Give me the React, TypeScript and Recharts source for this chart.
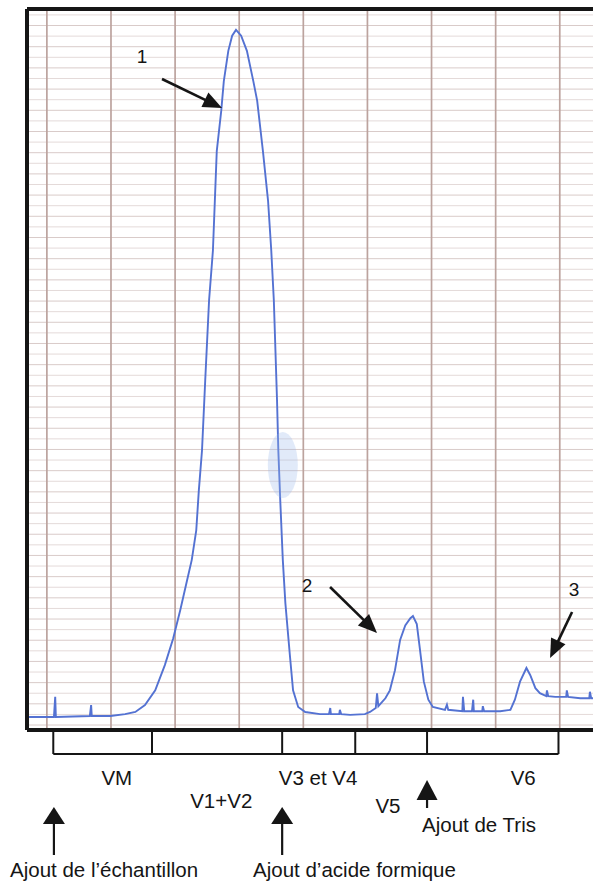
import {
  Line,
  LineChart,
  ReferenceDot,
  ReferenceLine,
  XAxis,
  YAxis,
} from 'recharts';

// Trace: x in chart divisions, y in % of full scale.
const elution = [
  0.03, 0.42, 0.44, 0.45, 0.98, 1.0, 1.01, 1.3, 1.53, 1.69, 1.84, 2.0, 2.15, 2.28, 2.39, 2.48,
  2.57, 2.64, 2.68, 2.73, 2.78, 2.84, 2.9, 2.93, 2.96, 3.03, 3.07, 3.14, 3.2, 3.26, 3.34, 3.43,
  3.53, 3.59, 3.68, 3.76, 3.81, 3.85, 3.9, 3.92, 3.95, 3.99, 4.03, 4.1, 4.15, 4.23, 4.34, 4.57,
  4.71, 4.73, 4.74, 4.87, 4.88, 4.9, 5.04, 5.27, 5.35, 5.44, 5.46, 5.48, 5.59, 5.66, 5.74, 5.82,
  5.9, 5.98, 6.02, 6.08, 6.13, 6.19, 6.26, 6.33, 6.52, 6.55, 6.57, 6.79, 6.8, 6.82, 6.94, 6.96,
  6.97, 7.1, 7.11, 7.13, 7.38, 7.54, 7.61, 7.69, 7.79, 7.85, 7.93, 8.0, 8.1, 8.11, 8.13, 8.24,
  8.41, 8.42, 8.44, 8.63, 8.77, 8.78, 8.8, 8.94,
];
const absorbance = [
  1.8, 1.8, 4.6, 1.8, 1.94, 3.46, 1.94, 1.94, 2.2, 2.5, 3.46, 5.5, 9.0, 12.7, 16.6, 20.1,
  23.6, 27.7, 33.2, 38.8, 48.5, 59.6, 66.5, 73.4, 80.3, 85.9, 90.0, 94.2, 96.3, 97.1, 96.3, 94.2,
  90.0, 87.3, 80.3, 73.4, 66.5, 59.6, 45.7, 38.8, 31.9, 23.6, 17.6, 10.4, 5.5, 3.2, 2.5, 2.2,
  2.2, 3.05, 2.2, 2.2, 2.8, 2.2, 2.1, 2.2, 2.5, 3.05, 5.1, 3.3, 4.4, 5.5, 8.3, 12.5,
  14.5, 15.5, 15.8, 14.7, 11.1, 6.7, 4.2, 3.2, 2.8, 3.5, 2.8, 2.6, 4.6, 2.6, 2.6, 4.2,
  2.6, 2.6, 3.3, 2.6, 2.6, 2.8, 4.2, 6.7, 8.6, 7.6, 5.8, 5.1, 4.7, 5.5, 4.7, 4.6,
  4.6, 5.5, 4.6, 4.4, 4.4, 5.3, 4.4, 4.4,
];

// chart paper
const paperColumns = [0.31, 1.31, 2.31, 3.31, 4.31, 5.31, 6.31, 7.31, 8.31];
const paperRows = Array.from({ length: 68 }, (_, i) => +(0.69 + i * 1.47).toFixed(2));

// fractions under the trace
const fractionEdges = [0.41, 1.95, 3.98, 5.12, 6.24, 8.29];
const fractionNames = ['VM', 'V1+V2', 'V3 et V4', 'V5', 'V6'];
const fractionLabelX = [1.4, 3.03, 4.54, 5.63, 7.74];
const fractionLabelY = [-7.63, -10.82, -7.63, -11.51, -7.63];

// additions
const eventNames = ['Ajout de l’échantillon', 'Ajout d’acide formique', 'Ajout de Tris'];
const eventX = [0.42, 3.98, 6.24];
const eventTextX = [-0.265, 3.526, 6.162];
const eventTextY = [-20.39, -20.39, -14.15];
const eventArrowFrom = [-17.34, -17.34, -10.82];
const eventArrowTo = [-10.68, -10.68, -6.93];

// peak numbers
const peakNames = ['1', '2', '3'];
const peakLabel = [
  { x: 1.794, y: 92.5 },
  { x: 4.368, y: 19.1 },
  { x: 8.534, y: 18.6 },
];
const peakArrow = [
  [{ x: 2.106, y: 90.29 }, { x: 3.042, y: 86.27 }],
  [{ x: 4.727, y: 19.83 }, { x: 5.46, y: 13.45 }],
  [{ x: 8.502, y: 16.37 }, { x: 8.159, y: 9.99 }],
];

const data = elution.map((x, i) => ({ x, a: absorbance[i] }));

const FONT = '"Liberation Sans", Arial, sans-serif';
const INK = '#151515';

const arrow = (len: number, half: number, width: number) => (p: any) => {
  const { x1, y1, x2, y2 } = p;
  const dx = x2 - x1;
  const dy = y2 - y1;
  const d = Math.hypot(dx, dy) || 1;
  const ux = dx / d;
  const uy = dy / d;
  const bx = x2 - ux * len;
  const by = y2 - uy * len;
  const pts = `${x2},${y2} ${bx - uy * half},${by + ux * half} ${bx + uy * half},${by - ux * half}`;
  return (
    <g>
      <line x1={x1} y1={y1} x2={bx + ux * 2} y2={by + uy * 2} stroke={INK} strokeWidth={width} />
      <polygon points={pts} fill={INK} />
    </g>
  );
};

const textAt = (value: string, anchor: 'start' | 'middle', size = 20.5) => (p: any) => (
  <text
    x={p.cx}
    y={p.cy}
    textAnchor={anchor}
    fontFamily={FONT}
    fontSize={size}
    fill={INK}
  >
    {value}
  </text>
);

export default function App() {
  return (
    <div
      style={{
        position: 'absolute',
        left: 0,
        top: 0,
        width: 593,
        height: 885,
        overflow: 'hidden',
        background: '#fff',
      }}
    >
      <LineChart
        width={610}
        height={885}
        data={data}
        margin={{ top: 9, right: 6, left: 27, bottom: 155 }}
      >
        <XAxis dataKey="x" type="number" domain={[0, 9]} allowDataOverflow hide />
        <YAxis type="number" domain={[0, 100]} allowDataOverflow hide />

        {/* recorder paper */}
        {paperRows.map((r, i) => (
          <ReferenceLine
            key={`row-${r}`}
            y={r}
            stroke={i % 2 ? '#e4dad9' : '#d9cbc9'}
            strokeWidth={1}
          />
        ))}
        {paperColumns.map((c) => (
          <ReferenceLine key={`col-${c}`} x={c} stroke="#bca39e" strokeWidth={1.7} />
        ))}

        {/* blue ink smudge on the paper */}
        <ReferenceDot
          x={3.99}
          y={36.75}
          ifOverflow="visible"
          shape={(p: any) => (
            <ellipse cx={p.cx} cy={p.cy} rx={15} ry={33} fill="#9db9ea" opacity={0.3} />
          )}
        />

        <Line
          type="linear"
          dataKey="a"
          stroke="#5472d2"
          strokeWidth={1.9}
          dot={false}
          isAnimationActive={false}
        />

        {/* frame */}
        <ReferenceLine x={0} stroke={INK} strokeWidth={4} ifOverflow="visible" />
        <ReferenceLine y={100} stroke={INK} strokeWidth={4} ifOverflow="visible" />
        <ReferenceLine y={0} stroke={INK} strokeWidth={4} ifOverflow="visible" />

        {/* fraction bracket */}
        <ReferenceLine
          segment={[
            { x: fractionEdges[0], y: -3.33 },
            { x: fractionEdges[fractionEdges.length - 1], y: -3.33 },
          ]}
          stroke={INK}
          strokeWidth={2}
          ifOverflow="visible"
        />
        {fractionEdges.map((e) => (
          <ReferenceLine
            key={`edge-${e}`}
            segment={[
              { x: e, y: 0 },
              { x: e, y: -3.33 },
            ]}
            stroke={INK}
            strokeWidth={2}
            ifOverflow="visible"
          />
        ))}
        {fractionNames.map((n, i) => (
          <ReferenceDot
            key={n}
            x={fractionLabelX[i]}
            y={fractionLabelY[i]}
            ifOverflow="visible"
            shape={textAt(n, 'middle')}
          />
        ))}

        {/* additions */}
        {eventNames.map((n, i) => (
          <ReferenceLine
            key={`ev-${n}`}
            segment={[
              { x: eventX[i], y: eventArrowFrom[i] },
              { x: eventX[i], y: eventArrowTo[i] },
            ]}
            ifOverflow="visible"
            shape={i < 2 ? arrow(17, 11, 2.2) : arrow(20, 10.5, 2.2)}
          />
        ))}
        {eventNames.map((n, i) => (
          <ReferenceDot
            key={`evt-${n}`}
            x={eventTextX[i]}
            y={eventTextY[i]}
            ifOverflow="visible"
            shape={textAt(n, 'start')}
          />
        ))}

        {/* peak numbers */}
        {peakNames.map((n, i) => (
          <ReferenceLine
            key={`pa-${n}`}
            segment={peakArrow[i]}
            ifOverflow="visible"
            shape={arrow(19, 8, 2.6)}
          />
        ))}
        {peakNames.map((n, i) => (
          <ReferenceDot
            key={`pl-${n}`}
            x={peakLabel[i].x}
            y={peakLabel[i].y}
            ifOverflow="visible"
            shape={textAt(n, 'middle', 19)}
          />
        ))}
      </LineChart>
    </div>
  );
}
